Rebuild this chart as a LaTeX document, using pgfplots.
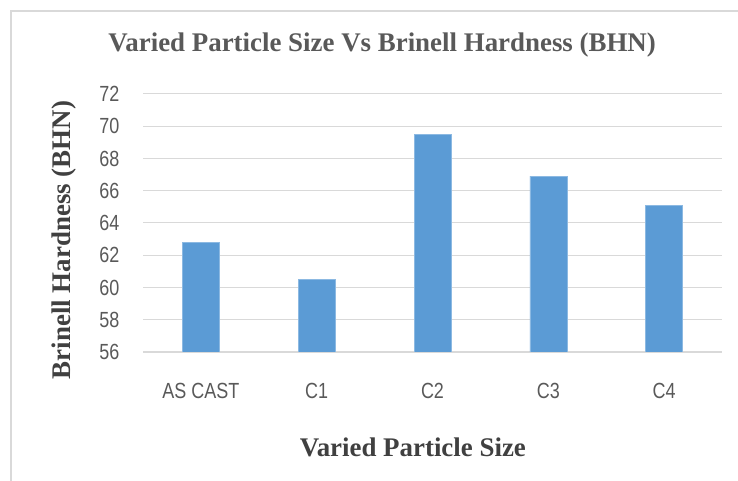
\documentclass[border=0pt]{standalone}
\usepackage{fontspec}
\setmainfont{Liberation Serif}
\newfontfamily\tickfont[FakeStretch=0.82]{Liberation Sans}
\newfontfamily\headfont{Liberation Serif}
\usepackage{pgfplots}
\pgfplotsset{compat=1.18}
\definecolor{barblue}{HTML}{5B9BD5}
\definecolor{gridgray}{HTML}{D9D9D9}
\definecolor{ticktext}{HTML}{595959}
\definecolor{labeltext}{HTML}{404040}
\begin{document}
\begin{tikzpicture}[x=1bp,y=1bp]
\path[use as bounding box] (0,0) rectangle (738,481);
\draw[gridgray, line width=1.5bp] (11,0) -- (11,470) -- (738,470);
\begin{axis}[
    at={(143bp,129bp)}, anchor=south west,
    scale only axis,
    width=579bp, height=258bp,
    ymin=56, ymax=72, ytick={56,58,...,72},
    xmin=-0.5, xmax=4.5,
    xtick=data,
    xticklabels={AS CAST, C1, C2, C3, C4},
    ybar, bar width=37bp,
    ymajorgrids,
    grid style={gridgray, line width=1bp},
    axis x line*=bottom,
    axis y line*=left,
    y axis line style={draw=none},
    x axis line style={gridgray, line width=1.5bp},
    major tick length=0pt,
    tick style={draw=none},
    ticklabel style={font=\tickfont\fontsize{22}{25}\selectfont, text=ticktext},
    /pgf/number format/assume math mode=true,
    yticklabel style={xshift=-20bp},
    xticklabel style={yshift=-28bp},
    title={Varied Particle Size Vs Brinell Hardness (BHN)},
    title style={at={(axis description cs:0.413,1.165)}, anchor=center,
        font=\headfont\bfseries\fontsize{27}{30}\selectfont, text=ticktext},
    xlabel={Varied Particle Size},
    xlabel style={at={(axis description cs:0.466,-0.368)}, anchor=center,
        font=\headfont\bfseries\fontsize{27}{30}\selectfont, text=labeltext},
    ylabel={Brinell Hardness (BHN)},
    ylabel style={at={(axis description cs:-0.136,0.434)}, anchor=center, rotate=0,
        font=\headfont\bfseries\fontsize{27}{30}\selectfont, text=labeltext},
]
\addplot[fill=barblue, draw=barblue!70!white, line width=0.6bp] coordinates {
    (0,62.8) (1,60.5) (2,69.5) (3,66.9) (4,65.1)
};
\end{axis}
\end{tikzpicture}
\end{document}
